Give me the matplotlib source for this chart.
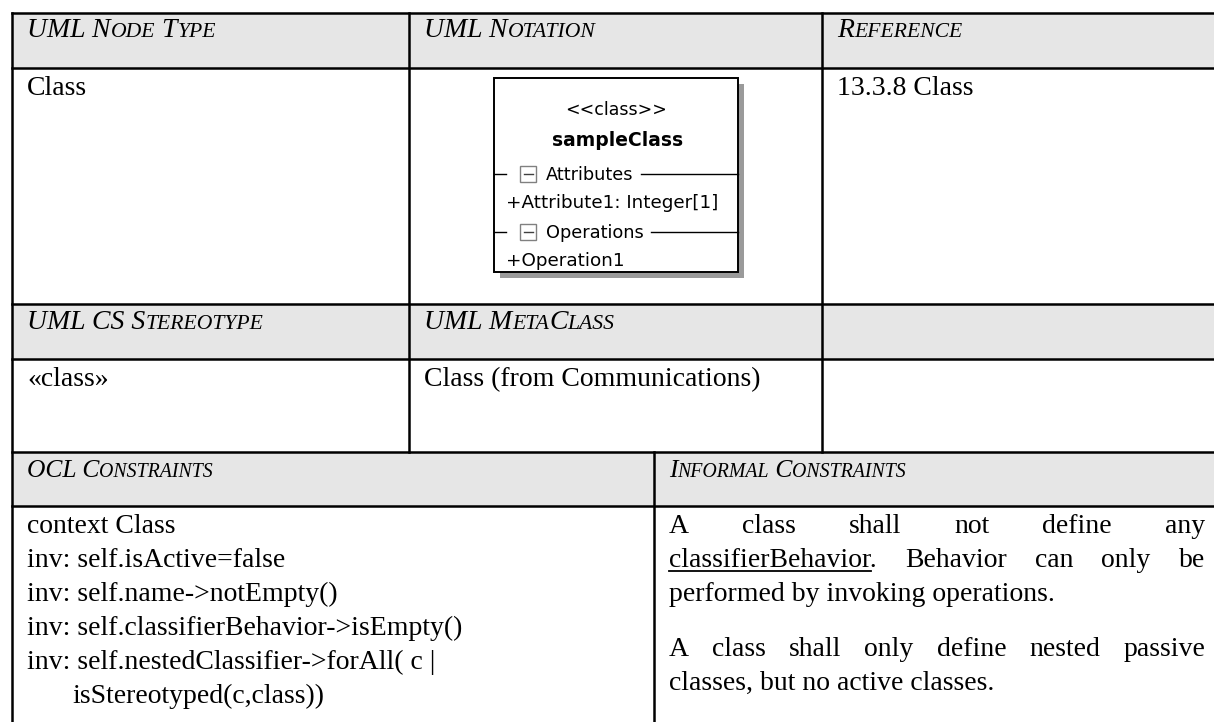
import matplotlib.pyplot as plt
from matplotlib.patches import Rectangle

plt.rcParams['font.family'] = ['Liberation Serif', 'DejaVu Serif']

# table content
top_headers = ['UML Node Type', 'UML Notation', 'Reference']
top_values = ['Class', '', '13.3.8 Class']
mid_headers = ['UML CS Stereotype', 'UML MetaClass', '']
mid_values = ['\u00abclass\u00bb', 'Class (from Communications)', '']
low_headers = ['OCL Constraints', 'Informal Constraints']
ocl_lines = ['context Class',
             'inv: self.isActive=false',
             'inv: self.name->notEmpty()',
             'inv: self.classifierBehavior->isEmpty()',
             'inv: self.nestedClassifier->forAll( c |',
             'isStereotyped(c,class))']
ocl_indent = [0, 0, 0, 0, 0, 1]
informal_paras = [['A class shall not define any',
                   'classifierBehavior. Behavior can only be',
                   'performed by invoking operations.'],
                  ['A class shall only define nested passive',
                   'classes, but no active classes.']]
underlined = 'classifierBehavior'

# UML class symbol
uml_stereo = '<<class>>'
uml_name = 'sampleClass'
uml_sections = ['Attributes', 'Operations']
uml_members = [['+Attribute1: Integer[1]'], ['+Operation1']]

W, H = 1214, 722
fig = plt.figure(figsize=(W / 100, H / 100), dpi=100)
ax = fig.add_axes([0, 0, 1, 1])
ax.set_xlim(0, W)
ax.set_ylim(H, 0)
ax.axis('off')
renderer = fig.canvas.get_renderer()

BODY = 20
GRAY = '#e6e6e6'
LW = 1.8
x0, x1, x2, xr = 12, 409, 822, 1240
xl = 654
ys = [13, 68, 304, 359, 452, 506, 760]
PAD = 15


def width(t):
    return t.get_window_extent(renderer).width


def small_caps(x, y, label, size):
    # uppercase letters full size, lowercase as smaller capitals
    runs = []
    for ch in label:
        small = ch.islower()
        if runs and runs[-1][1] == small:
            runs[-1][0] += ch
        else:
            runs.append([ch, small])
    for txt, small in runs:
        if txt == ' ':
            t = ax.text(x, y, 'x x', fontsize=size, style='italic', alpha=0)
            t2 = ax.text(x, y, 'xx', fontsize=size, style='italic', alpha=0)
            x += width(t) - width(t2)
            continue
        t = ax.text(x, y, txt.upper(), fontsize=size * (0.78 if small else 1),
                    style='italic', va='baseline', ha='left')
        x += width(t)


def justify(x_left, x_right, y, line, size):
    words = line.split(' ')
    arts = [ax.text(0, y, w, fontsize=size, va='baseline', ha='left') for w in words]
    ws = [width(a) for a in arts]
    gap = (x_right - x_left - sum(ws)) / (len(words) - 1)
    x = x_left
    for a, w in zip(arts, ws):
        a.set_x(x)
        x += w + gap


# gray header rows
for r in (0, 2, 4):
    ax.add_patch(Rectangle((x0, ys[r]), xr - x0, ys[r + 1] - ys[r], color=GRAY, lw=0))

# grid lines
for y in ys[:-1]:
    ax.plot([x0, xr], [y, y], color='black', lw=LW, solid_capstyle='projecting')
ax.plot([x0, x0], [ys[0], ys[-1]], color='black', lw=LW)
for xv in (x1, x2):
    ax.plot([xv, xv], [ys[0], ys[4]], color='black', lw=LW)
ax.plot([xl, xl], [ys[4], ys[-1]], color='black', lw=LW)

cols = [x0, x1, x2]
for i in range(3):
    if top_headers[i]:
        small_caps(cols[i] + PAD, ys[0] + 24, top_headers[i], BODY)
    if top_values[i]:
        ax.text(cols[i] + PAD, ys[1] + 27, top_values[i], fontsize=BODY, va='baseline')
    if mid_headers[i]:
        small_caps(cols[i] + PAD, ys[2] + 25, mid_headers[i], BODY)
    if mid_values[i]:
        ax.text(cols[i] + PAD, ys[3] + 27, mid_values[i], fontsize=BODY, va='baseline')

small_caps(x0 + PAD, ys[4] + 25, low_headers[0], BODY * 0.92)
small_caps(xl + PAD, ys[4] + 25, low_headers[1], BODY * 0.92)

# OCL constraints
for i, (line, ind) in enumerate(zip(ocl_lines, ocl_indent)):
    ax.text(x0 + PAD + 45 * ind, ys[5] + 27 + 34 * i, line, fontsize=BODY, va='baseline')

# informal constraints, justified
xa, xb = xl + PAD, 1205
y = ys[5] + 27
for para in informal_paras:
    for j, line in enumerate(para):
        if j < len(para) - 1:
            justify(xa, xb, y, line, BODY)
        else:
            ax.text(xa, y, line, fontsize=BODY, va='baseline')
        if underlined in line:
            t = ax.text(0, y, underlined, fontsize=BODY, alpha=0)
            ax.plot([xa, xa + width(t)], [y + 4, y + 4], color='black', lw=1.3)
        y += 34
    y += 21

# UML class box
bx0, bx1, by0, by1 = 494, 738, 78, 272
ax.add_patch(Rectangle((bx0 + 6, by0 + 6), bx1 - bx0, by1 - by0, color='#9a9a9a', lw=0))
ax.add_patch(Rectangle((bx0, by0), bx1 - bx0, by1 - by0, facecolor='white',
                       edgecolor='black', lw=1.4))
cx = (bx0 + bx1) / 2
sans = 'DejaVu Sans'
ax.text(cx, 115, uml_stereo, fontsize=12.5, family=sans, ha='center', va='baseline')
ax.text(cx + 2, 146, uml_name, fontsize=13.5, family=sans, weight='bold', ha='center', va='baseline')
sec_y = [174, 232]
for name, members, sy in zip(uml_sections, uml_members, sec_y):
    ax.plot([bx0, bx0 + 12], [sy, sy], color='black', lw=1)
    ax.add_patch(Rectangle((520, sy - 8), 16, 16, facecolor='white', edgecolor='#808080', lw=1))
    ax.plot([523.5, 532.5], [sy, sy], color='#404040', lw=1)
    t = ax.text(546, sy + 6, name, fontsize=12.8, family=sans, va='baseline')
    xe = 546 + width(t) + 7
    ax.plot([xe, bx1], [sy, sy], color='black', lw=1)
    for k, m in enumerate(members):
        ax.text(bx0 + 12, sy + 34 + 28 * k, m, fontsize=13.2, family=sans, va='baseline')

fig.savefig('out.png', dpi=100)
